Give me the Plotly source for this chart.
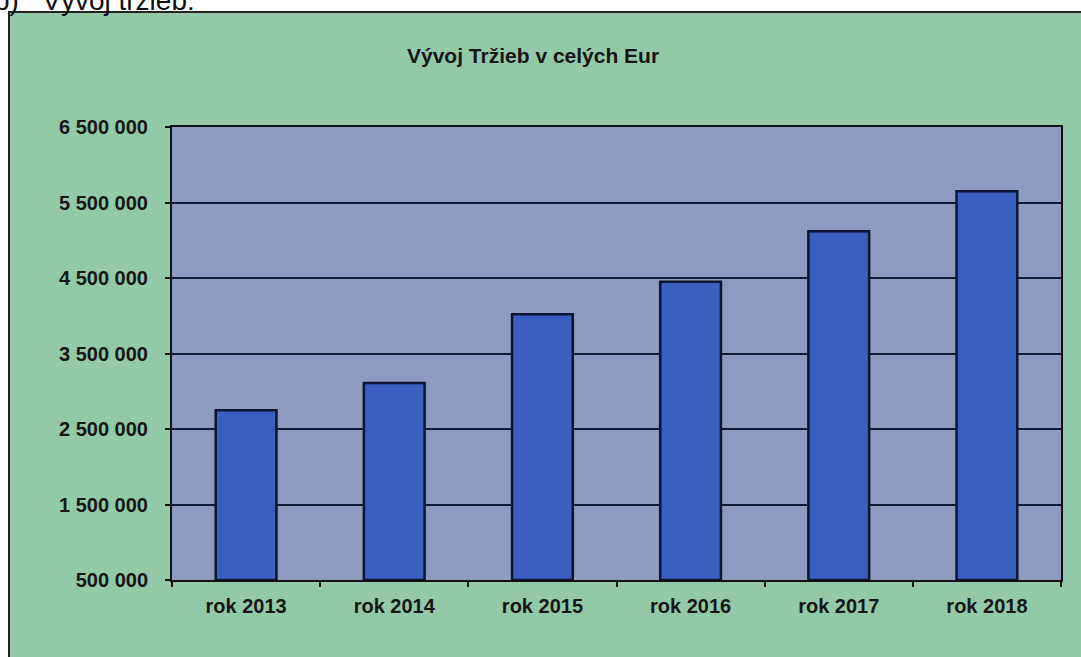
import plotly.graph_objects as go

categories = ["rok 2013", "rok 2014", "rok 2015", "rok 2016", "rok 2017", "rok 2018"]
trzby = [2750000, 3110000, 4020000, 4450000, 5120000, 5650000]
y_ticks = [500000, 1500000, 2500000, 3500000, 4500000, 5500000, 6500000]
y_tick_labels = ["500 000", "1 500 000", "2 500 000", "3 500 000", "4 500 000", "5 500 000", "6 500 000"]

W, H = 1081, 657
L, R, T, B = 172, 1061, 127, 580

def px_x(p):
    return (p - L) / (R - L)

def px_y(p):
    return (B - p) / (B - T)

base_val = y_ticks[0]

fig = go.Figure()
fig.add_trace(go.Bar(
    x=categories,
    y=[v - base_val for v in trzby],
    base=[base_val] * len(trzby),
    marker=dict(color="#3a5fbf", line=dict(color="#0d1530", width=2.5)),
    hoverinfo="skip",
))

font_b = "Liberation Sans, Arial, sans-serif"
green = "#93c9a8"

fig.update_layout(
    width=W, height=H,
    margin=dict(l=L, r=W - R, t=T, b=H - B),
    paper_bgcolor=green,
    plot_bgcolor="#8c9bc0",
    bargap=0.59,
    showlegend=False,
    xaxis=dict(
        type="category", showline=True, linecolor="#111", linewidth=2, mirror=True,
        ticks="outside", tickson="boundaries", ticklen=5, tickcolor="#111", tickwidth=2,
        showgrid=False, ticklabelstandoff=7,
        tickfont=dict(family=font_b, size=20, color="#161616", weight="bold"),
    ),
    yaxis=dict(
        range=[y_ticks[0], y_ticks[-1]],
        tickvals=y_ticks, ticktext=y_tick_labels,
        showline=True, linecolor="#111", linewidth=2, mirror=True,
        ticks="outside", ticklen=5, tickcolor="#111", tickwidth=2,
        showgrid=True, gridcolor="#0f1a33", gridwidth=2,
        zeroline=False,
        tickfont=dict(family=font_b, size=20, color="#161616", weight="bold"),
        ticklabelstandoff=13,
    ),
    shapes=[
        dict(type="rect", xref="paper", yref="paper", layer="below",
             x0=px_x(-20), x1=px_x(1100), y0=px_y(12), y1=px_y(-20),
             fillcolor="white", line=dict(width=0)),
        dict(type="rect", xref="paper", yref="paper", layer="below",
             x0=px_x(-20), x1=px_x(9), y0=px_y(680), y1=px_y(-20),
             fillcolor="white", line=dict(width=0)),
        dict(type="rect", xref="paper", yref="paper", layer="below",
             x0=px_x(9), x1=px_x(1095), y0=px_y(670), y1=px_y(12),
             fillcolor="rgba(0,0,0,0)", line=dict(color="#222", width=2)),
    ],
    annotations=[
        dict(text="Vývoj Tržieb v celých Eur", xref="paper", yref="paper",
             x=px_x(533), y=px_y(55), xanchor="center", yanchor="middle",
             showarrow=False, font=dict(family=font_b, size=21, color="#161616", weight="bold")),
        dict(text="b)   Vývoj tržieb:", xref="paper", yref="paper",
             x=px_x(-8), y=px_y(18), xanchor="left", yanchor="bottom",
             showarrow=False, font=dict(family=font_b, size=28, color="#111")),
    ],
)

fig.write_html("out.html", config={"displayModeBar": False},
               post_script="document.body.style.margin='0';document.body.style.overflow='hidden';")
